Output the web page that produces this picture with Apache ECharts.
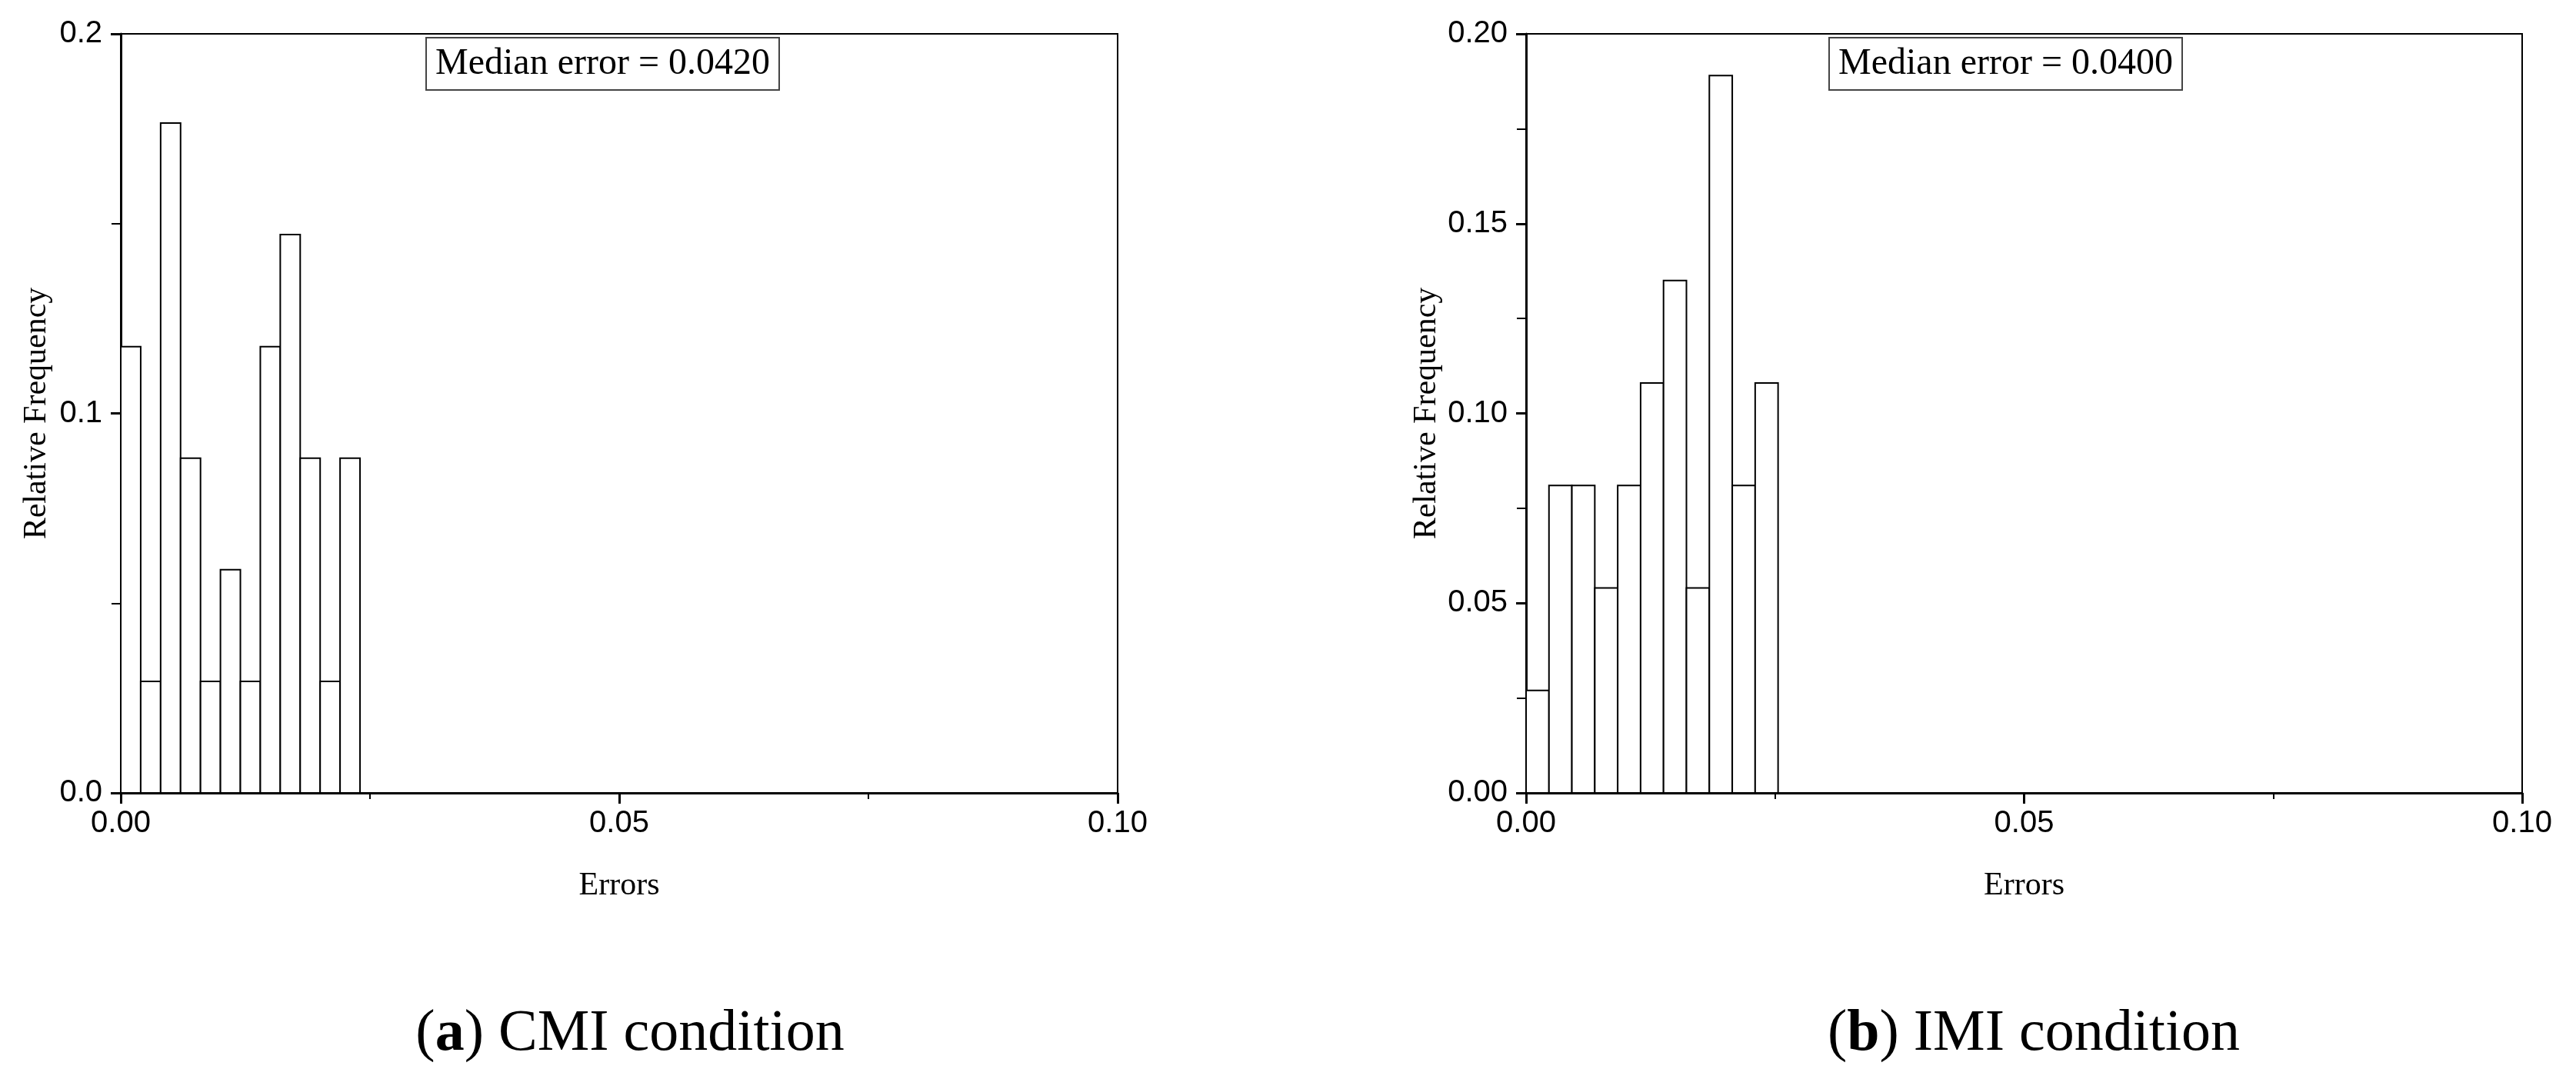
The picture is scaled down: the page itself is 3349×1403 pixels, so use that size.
<!DOCTYPE html>
<html>
<head>
<meta charset="utf-8">
<script src="https://cdn.jsdelivr.net/npm/echarts@6/dist/echarts.min.js"></script>
<style>
  html, body { margin: 0; padding: 0; background: #fff; }
  #chart { width: 3349px; height: 1403px; }
</style>
</head>
<body>
<div id="chart"></div>
<script>
// bin edges and relative frequencies
var edgesCMI = [0, 0.002, 0.004, 0.006, 0.008, 0.010, 0.012, 0.014, 0.016, 0.018, 0.020, 0.022, 0.024];
var freqCMI = [0.1176, 0.0294, 0.1765, 0.0882, 0.0294, 0.0588, 0.0294, 0.1176, 0.1471, 0.0882, 0.0294, 0.0882];

var edgesIMI = [0, 0.0023, 0.0046, 0.0069, 0.0092, 0.0115, 0.0138, 0.0161, 0.0184, 0.0207, 0.0230, 0.0253];
var freqIMI = [0.027, 0.081, 0.081, 0.054, 0.081, 0.108, 0.135, 0.054, 0.189, 0.081, 0.108];

var medianLabels = ['Median error = 0.0420', 'Median error = 0.0400'];
var captions = ['({b|a}) CMI condition', '({b|b}) IMI condition'];
var xTitle = 'Errors';
var yTitle = 'Relative Frequency';

function toBins(edges, freq) {
    return freq.map(function (v, i) { return [edges[i], edges[i + 1], v]; });
}

// one histogram bar = rect from bin start to bin end
function renderBin(params, api) {
    var p0 = api.coord([api.value(0), 0]);
    var p1 = api.coord([api.value(1), api.value(2)]);
    return {
        type: 'rect',
        shape: { x: p0[0], y: p1[1], width: p1[0] - p0[0], height: p0[1] - p1[1] },
        style: { fill: '#fff', stroke: '#000', lineWidth: 2 }
    };
}

var labelFont = { fontFamily: 'Liberation Sans', fontSize: 40, color: '#000' };
var nameFont = { fontFamily: 'Liberation Serif', fontSize: 42, color: '#000' };

function xAxisOf(gridIndex) {
    return {
        type: 'value', gridIndex: gridIndex, min: 0, max: 0.1, interval: 0.05,
        name: xTitle, nameLocation: 'middle', nameGap: 100, nameTextStyle: nameFont,
        axisLine: { show: true, lineStyle: { color: '#000', width: 3 } },
        axisTick: { show: true, length: 14, lineStyle: { color: '#000', width: 3 } },
        minorTick: { show: true, splitNumber: 2, length: 8, lineStyle: { color: '#000', width: 2 } },
        axisLabel: Object.assign({ margin: 20, formatter: function (v) { return v.toFixed(2); } }, labelFont),
        splitLine: { show: false }
    };
}

function yAxisOf(gridIndex, interval, digits, gap) {
    return {
        type: 'value', gridIndex: gridIndex, min: 0, max: 0.2, interval: interval,
        name: yTitle, nameLocation: 'middle', nameRotate: 90, nameGap: gap, nameTextStyle: nameFont,
        axisLine: { show: true, lineStyle: { color: '#000', width: 3 } },
        axisTick: { show: true, length: 13, lineStyle: { color: '#000', width: 3 } },
        minorTick: { show: true, splitNumber: 2, length: 12, lineStyle: { color: '#000', width: 2 } },
        axisLabel: Object.assign({ margin: 24, formatter: function (v) { return v.toFixed(digits); } }, labelFont),
        splitLine: { show: false }
    };
}

var boxStyle = {
    borderColor: '#444', borderWidth: 2, padding: [10, 12],
    textStyle: { fontFamily: 'Liberation Serif', fontSize: 48, fontWeight: 'normal', color: '#000' }
};
var captionStyle = {
    fontFamily: 'Liberation Serif', fontSize: 76, fontWeight: 'normal', color: '#000',
    rich: { b: { fontFamily: 'Liberation Serif', fontSize: 76, fontWeight: 'bold', color: '#000' } }
};

var myChart = echarts.init(document.getElementById('chart'));
myChart.setOption({
    backgroundColor: '#fff',
    animation: false,
    title: [
        Object.assign({ text: medianLabels[0], left: 554, top: 49 }, boxStyle),
        Object.assign({ text: medianLabels[1], left: 2378, top: 49 }, boxStyle),
        { text: captions[0], left: 814, top: 1302, textAlign: 'center', textStyle: captionStyle },
        { text: captions[1], left: 2639, top: 1302, textAlign: 'center', textStyle: captionStyle }
    ],
    grid: [
        { left: 157, right: 1896, top: 44, bottom: 372, show: true, borderColor: '#000', borderWidth: 2, backgroundColor: 'transparent' },
        { left: 1984, right: 70, top: 44, bottom: 372, show: true, borderColor: '#000', borderWidth: 2, backgroundColor: 'transparent' }
    ],
    xAxis: [xAxisOf(0), xAxisOf(1)],
    yAxis: [yAxisOf(0, 0.1, 1, 88), yAxisOf(1, 0.05, 2, 108)],
    series: [
        { type: 'custom', xAxisIndex: 0, yAxisIndex: 0, renderItem: renderBin, data: toBins(edgesCMI, freqCMI) },
        { type: 'custom', xAxisIndex: 1, yAxisIndex: 1, renderItem: renderBin, data: toBins(edgesIMI, freqIMI) }
    ]
});
</script>
</body>
</html>
